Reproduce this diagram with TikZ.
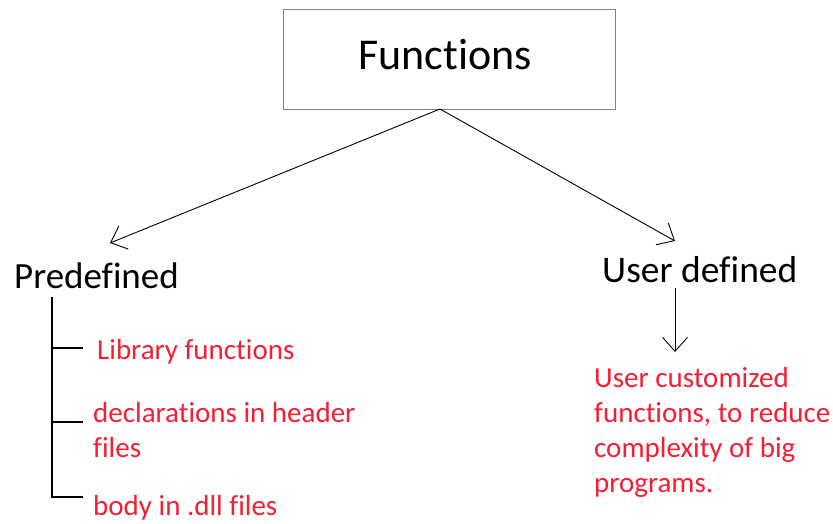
\documentclass[tikz,border=0pt]{standalone}
\usepackage{fontspec}
\setmainfont[RawFeature={-liga;-clig;-calt;-dlig}]{Carlito}
\usetikzlibrary{arrows.meta}
\definecolor{boxgray}{RGB}{128,128,128}
\definecolor{redtext}{RGB}{245,30,50}
\tikzset{
  barb/.style={-{Straight Barb[length=14pt,width=25pt,line width=0.9pt]},line width=0.9pt,black},
  heading/.style={inner sep=0pt,anchor=base west,font=\fontsize{37.5}{44}\selectfont},
  redlbl/.style={inner sep=0pt,anchor=base west,text=redtext,font=\fontsize{29}{35}\selectfont,align=left},
  tree/.style={line width=1.3pt,black}
}
\begin{document}
\begin{tikzpicture}[x=1pt,y=-1pt]
\useasboundingbox (0,0) rectangle (833,523);
\node[draw=boxgray,line width=1pt,minimum width=332pt,minimum height=100pt,inner sep=0pt] (fun) at (449,59) {};
\node[inner sep=0pt,anchor=base,font=\fontsize{44}{50}\selectfont] (funtxt) at (445,69) {Func\kern0ptt\kern0pti\kern0ptons};
\coordinate (top) at (440,109);
\coordinate (ltip) at (110,243);
\coordinate (rtip) at (675,241);
\draw[barb] (top) -- (ltip);
\draw[barb] (top) -- (rtip);
\node[heading,font=\fontsize{37}{44}\selectfont] (pre) at (14,288) {Predefined};
\node[heading] (usr) at (602,282) {User defined};
\coordinate (ua) at (675,288);
\coordinate (ub) at (675,352);
\draw[barb] (ua) -- (ub);
\node[redlbl] (lib) at (97,359) {Library functions};
\node[redlbl] (decl) at (93,457) {declarations in header\\files};
\node[redlbl] (body) at (93,515) {body in .dll files};
\node[redlbl] (cust) at (594,492) {User customized\\functions, to reduce\\complexity of big\\programs.};
\coordinate (v0) at (52,297);
\coordinate (v1) at (52,348);
\coordinate (v2) at (52,422);
\coordinate (v3) at (52,497);
\draw[tree] (v0) -- (v3) -- (83,497);
\draw[tree] (v1) -- (83,348);
\draw[tree] (v2) -- (83,422);
\end{tikzpicture}
\end{document}
